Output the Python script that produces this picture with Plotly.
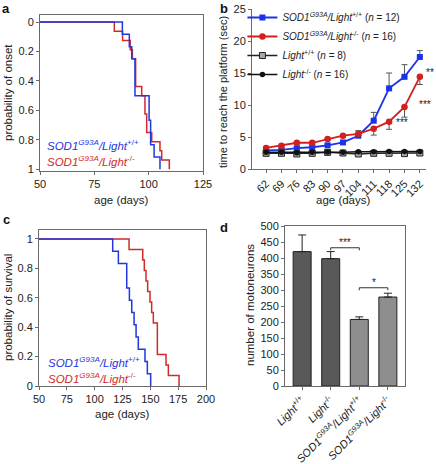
import plotly.graph_objects as go

FONT = "Liberation Sans, Arial, Helvetica, sans-serif"
BLUE = "#2336e0"
RED = "#d02a2a"
AXC = "#6a6a6a"

# ---- panel a: onset (Kaplan-Meier steps) ----
onset_wt_days = [50, 87.9, 91.1, 92.2, 93.7, 100.2, 100.9, 102.5, 105.2]
onset_wt_prob = [0, 0.083, 0.167, 0.25, 0.5, 0.667, 0.833, 0.917, 1.0]
onset_ko_days = [50, 84.2, 88.0, 91.5, 92.5, 94.0, 96.8, 98.3, 99.1, 101.4, 105.2, 106.0, 109.5]
onset_ko_prob = [0, 0.0625, 0.125, 0.1875, 0.25, 0.4375, 0.5, 0.625, 0.75, 0.8125, 0.875, 0.9375, 1.0]

# ---- panel c: survival ----
surv_wt_days = [50, 116.2, 121.3, 128.8, 131.2, 133.3, 135.4, 137.2, 139.2, 145.2, 147.3, 150.3]
surv_wt_prob = [1, 0.917, 0.833, 0.667, 0.583, 0.5, 0.417, 0.333, 0.25, 0.167, 0.083, 0]
surv_ko_days = [50, 130.9, 143.2, 144.6, 146.1, 147.6, 149.7, 151.2, 152.7, 156.3, 164.1, 166.2, 175.8]
surv_ko_prob = [1, 0.929, 0.857, 0.786, 0.714, 0.643, 0.571, 0.5, 0.429, 0.214, 0.143, 0.071, 0]

# ---- panel b: time to reach the platform ----
ages = [62, 69, 76, 83, 90, 97, 104, 111, 118, 125, 132]
sod_wt = [2.9, 3.0, 3.25, 3.4, 3.7, 4.15, 5.2, 7.55, 12.6, 14.4, 17.5]
sod_wt_err = [0.2, 0.2, 0.2, 0.2, 0.2, 0.3, 0.8, 1.3, 2.4, 1.9, 1.0]
sod_ko = [3.3, 3.65, 4.1, 4.1, 4.7, 5.2, 5.5, 6.3, 7.4, 9.7, 14.4]
sod_ko_err = [0.2, 0.2, 0.2, 0.2, 0.2, 0.2, 0.3, 1.0, 1.2, 1.6, 1.2]
light_wt = [2.45, 2.45, 2.35, 2.45, 2.6, 2.5, 2.35, 2.45, 2.45, 2.4, 2.5]
light_ko = [2.6, 2.6, 2.55, 2.6, 2.65, 2.6, 2.7, 2.7, 2.75, 2.75, 2.75]

# ---- panel d: motoneurons ----
groups = ["<i>Light</i><sup>+/+</sup>", "<i>Light</i><sup>-/-</sup>",
          "<i>SOD1</i><sup><i>G93A</i></sup><i>/Light</i><sup>+/+</sup>",
          "<i>SOD1</i><sup><i>G93A</i></sup><i>/Light</i><sup>-/-</sup>"]
motoneurons = [420, 398, 208, 278]
moto_err = [52, 22, 8, 12]
bar_colors = ["#595959", "#595959", "#8e8e8e", "#8e8e8e"]

LBL_WT = "<i>SOD1</i><sup><i>G93A</i></sup><i>/Light</i><sup>+/+</sup>"
LBL_KO = "<i>SOD1</i><sup><i>G93A</i></sup><i>/Light</i><sup>-/-</sup>"

fig = go.Figure()

# panel a
fig.add_trace(go.Scatter(x=onset_ko_days, y=onset_ko_prob, mode="lines", line=dict(color=RED, width=1.5, shape="hv"),
                         xaxis="x", yaxis="y", showlegend=False))
fig.add_trace(go.Scatter(x=onset_wt_days, y=onset_wt_prob, mode="lines", line=dict(color=BLUE, width=1.5, shape="hv"),
                         xaxis="x", yaxis="y", showlegend=False))
# panel c
fig.add_trace(go.Scatter(x=surv_ko_days, y=surv_ko_prob, mode="lines", line=dict(color=RED, width=1.5, shape="hv"),
                         xaxis="x3", yaxis="y3", showlegend=False))
fig.add_trace(go.Scatter(x=surv_wt_days, y=surv_wt_prob, mode="lines", line=dict(color=BLUE, width=1.5, shape="hv"),
                         xaxis="x3", yaxis="y3", showlegend=False))

# panel b
fig.add_trace(go.Scatter(x=ages, y=sod_wt, mode="lines+markers", name=LBL_WT + " (<i>n</i> = 12)",
                         line=dict(color="#1a33e8", width=1.8), marker=dict(symbol="square", size=6, color="#1a33e8"),
                         error_y=dict(type="data", array=sod_wt_err, arrayminus=[0]*len(ages), symmetric=False,
                                      color="#555", thickness=1, width=3),
                         xaxis="x2", yaxis="y2"))
fig.add_trace(go.Scatter(x=ages, y=sod_ko, mode="lines+markers", name=LBL_KO + " (<i>n</i> = 16)",
                         line=dict(color="#d41f1f", width=1.8), marker=dict(symbol="circle", size=6.5, color="#d41f1f"),
                         error_y=dict(type="data", array=[0]*len(ages), arrayminus=sod_ko_err, symmetric=False,
                                      color="#555", thickness=1, width=3),
                         xaxis="x2", yaxis="y2"))
fig.add_trace(go.Scatter(x=ages, y=light_wt, mode="lines+markers", name="<i>Light</i><sup>+/+</sup> (<i>n</i> = 8)",
                         line=dict(color="#222", width=1.5),
                         marker=dict(symbol="square", size=6, color="#a8a8a8", line=dict(color="#222", width=1)),
                         xaxis="x2", yaxis="y2"))
fig.add_trace(go.Scatter(x=ages, y=light_ko, mode="lines+markers", name="<i>Light</i><sup>-/-</sup> (<i>n</i> = 16)",
                         line=dict(color="#111", width=1.5), marker=dict(symbol="circle", size=5.5, color="#111"),
                         xaxis="x2", yaxis="y2"))

# panel d
fig.add_trace(go.Bar(x=[0, 1, 2, 3], y=motoneurons, width=0.63,
                     marker=dict(color=bar_colors, line=dict(color="#222", width=1)),
                     error_y=dict(type="data", array=moto_err, arrayminus=[0]*4, symmetric=False,
                                  color="#222", thickness=1, width=4),
                     xaxis="x4", yaxis="y4", showlegend=False))

tickfont = dict(family=FONT, size=11, color="#222")
common = dict(showgrid=False, zeroline=False, linecolor=AXC, linewidth=1, ticks="outside", ticklen=3,
              tickcolor=AXC, tickfont=tickfont, automargin=False)

fig.update_layout(
    width=436, height=464, margin=dict(l=0, r=0, t=0, b=0, pad=0, autoexpand=False),
    paper_bgcolor="white", plot_bgcolor="white",
    font=dict(family=FONT, size=11, color="#222"),
    xaxis=dict(domain=[40/436, 203/436], range=[50, 125], tickvals=[50, 75, 100, 125], mirror=True,
               anchor="y", **common),
    yaxis=dict(domain=[1-171/464, 1-15/464], range=[1.012, -0.048], tickvals=[0, 0.2, 0.4, 0.6, 0.8, 1],
               ticktext=["0", "0.2", "0.4", "0.6", "0.8", "1"], mirror=True, anchor="x", **common),
    xaxis2=dict(domain=[252/436, 426/436], range=[55.6, 134.8], tickvals=ages, tickangle=-45,
                anchor="y2", **common),
    yaxis2=dict(domain=[1-169/464, 1-9/464], range=[0, 25], tickvals=[0, 5, 10, 15, 20, 25],
                anchor="x2", **common),
    xaxis3=dict(domain=[39/436, 206/436], range=[50, 200], tickvals=[50, 75, 100, 125, 150, 175, 200],
                mirror=True, anchor="y3", **common),
    yaxis3=dict(domain=[1-386/464, 1-230/464], range=[0, 1.061], tickvals=[0, 0.2, 0.4, 0.6, 0.8, 1],
                ticktext=["0", "0.2", "0.4", "0.6", "0.8", "1"], mirror=True, anchor="x3", **common),
    xaxis4=dict(domain=[285/436, 405/436], range=[-0.6, 3.6], tickvals=[0, 1, 2, 3], ticktext=groups,
                tickangle=-45, mirror=True, anchor="y4", **common),
    yaxis4=dict(domain=[1-386/464, 1-226/464], range=[0, 500], tickvals=list(range(0, 501, 50)),
                mirror=True, anchor="x4", **common),
    legend=dict(x=0.556, y=1-3/464, xanchor="left", yanchor="top", bgcolor="rgba(0,0,0,0)",
                font=dict(family=FONT, size=10, color="#222"), tracegroupgap=0, itemwidth=30),
    showlegend=True,
)

ann = []
C = dict(xanchor="center", yanchor="middle", showarrow=False)
# panel letters
for txt, x, y in [("a", 6, 9), ("b", 224, 8), ("c", 6, 219), ("d", 224, 227)]:
    ann.append(dict(text="<b>%s</b>" % txt, x=x/436, y=1-y/464, xref="paper", yref="paper",
                    font=dict(family=FONT, size=13, color="#111"), **C))
# axis titles
for txt, x, y, ang, fs in [("probability of onset", 8, 93, -90, 11.5),
                           ("time to reach the platform (sec)", 223, 92, -90, 11),
                           ("probability of survival", 8, 308, -90, 11.5),
                           ("number of motoneurons", 250, 305, -90, 11.5),
                           ("age (days)", 121, 200, 0, 11.5), ("age (days)", 343, 200, 0, 11.5),
                           ("age (days)", 122, 414, 0, 11.5)]:
    ann.append(dict(text=txt, x=x/436, y=1-y/464, xref="paper", yref="paper",
                    textangle=ang, font=dict(family=FONT, size=fs, color="#222"), **C))
# in-plot legends for a and c
for txt, col, x, y in [(LBL_WT, BLUE, 45, 145), (LBL_KO, RED, 45, 161),
                       (LBL_WT, BLUE, 46, 362), (LBL_KO, RED, 46, 378)]:
    ann.append(dict(text=txt, x=x/436, y=1-y/464, xref="paper", yref="paper", xanchor="left",
                    yanchor="middle", showarrow=False, font=dict(family=FONT, size=11.5, color=col)))
# significance in b
for txt, x, y in [("**", 134.0, 15.0), ("***", 130.5, 10.0), ("***", 120.3, 7.2)]:
    ann.append(dict(text=txt, x=x, y=y, xref="x2", yref="y2", xanchor="left", yanchor="middle",
                    showarrow=False, font=dict(family=FONT, size=10, color="#222")))
# significance in d
ann.append(dict(text="***", x=1.5, y=447, xref="x4", yref="y4", font=dict(family=FONT, size=10, color="#222"), **C))
ann.append(dict(text="*", x=2.5, y=322, xref="x4", yref="y4", font=dict(family=FONT, size=10, color="#222"), **C))
fig.update_layout(annotations=ann)

shapes = []
for x0, x1, yb, yl in [(1, 2, 432, 424), (2, 3, 307, 299)]:
    shapes.append(dict(type="path", xref="x4", yref="y4",
                       path="M %s,%s L %s,%s L %s,%s L %s,%s" % (x0, yl, x0, yb, x1, yb, x1, yl),
                       line=dict(color="#333", width=1)))
fig.update_layout(shapes=shapes)

fig.write_html("out.html", config={"displayModeBar": False},
               post_script="document.body.style.margin='0px';document.body.style.overflow='hidden';")
